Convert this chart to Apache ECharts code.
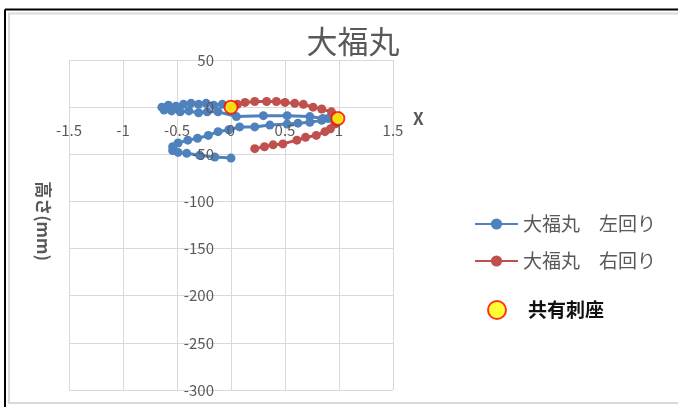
<!DOCTYPE html>
<html>
<head>
<meta charset="utf-8">
<script src="https://cdn.jsdelivr.net/npm/echarts@6/dist/echarts.min.js"></script>
<style>
  html, body { margin: 0; padding: 0; background: #fff; }
  #chart { width: 678px; height: 407px; }
</style>
</head>
<body>
<div id="chart"></div>
<script>
// Title and series names
const chartTitle = '大福丸';
const nameLeft = '大福丸　左回り';
const nameRight = '大福丸　右回り';
const nameShared = '共有刺座';

// 左回り: x and height (mm)
const leftX = [0, -0.08, -0.16, -0.23, -0.30, -0.37, -0.44, -0.51, -0.58, -0.64,
  -0.62, -0.55, -0.47, -0.39, -0.30, -0.22, -0.12, 0.05, 0.30, 0.52, 0.73, 0.85, 0.90,
  0.84, 0.73, 0.62, 0.52, 0.36, 0.22, 0.08, -0.02, -0.12, -0.21, -0.31, -0.40, -0.49,
  -0.54, -0.54, -0.49, -0.41, -0.29, -0.15, 0.00];
const leftY = [0, 3, 2, 4, 3, 4, 3, 1, 2, 0,
  -3, -4, -5, -4, -6, -5, -5, -10, -9, -9, -10, -12, -12,
  -14, -16, -17, -18, -19, -21, -21, -24, -26, -30, -33, -35, -38,
  -42, -46, -48, -49, -51, -53, -54];

// 右回り: x and height (mm)
const rightX = [0, 0.06, 0.13, 0.22, 0.33, 0.42, 0.50, 0.59, 0.67, 0.76, 0.84, 0.93, 0.99,
  0.96, 0.92, 0.87, 0.79, 0.69, 0.61, 0.48, 0.39, 0.31, 0.22];
const rightY = [0, 3, 5, 6, 6, 6, 5, 4, 3, 0, -2, -5, -12,
  -18, -23, -26, -30, -32, -35, -39, -40, -42, -44];

// Shared prickle bases
const sharedX = [0, 0.99];
const sharedY = [0, -12];

// Axis ranges
const xMin = -1.5, xMax = 1.5, xStep = 0.5;
const yMin = -300, yMax = 50, yStep = 50;

const zip = (xs, ys) => xs.map((x, i) => [x, ys[i]]);

const labelColor = '#595959';
const gridColor = '#D9D9D9';

// Plot area and the axes crossing at the origin
const W = 678, H = 407;
const gridBox = { left: 69, right: 285, top: 60, bottom: 17 };
const gridW = W - gridBox.left - gridBox.right;
const gridH = H - gridBox.top - gridBox.bottom;
const yAxisShift = -gridW * (0 - xMin) / (xMax - xMin);
const xAxisShift = -gridH * (0 - yMin) / (yMax - yMin);

const xRange = { type: 'value', min: xMin, max: xMax, interval: xStep };
const yRange = { type: 'value', min: yMin, max: yMax, interval: yStep };

const chart = echarts.init(document.getElementById('chart'));
chart.setOption({
  animation: false,
  backgroundColor: '#fff',
  textStyle: { fontFamily: '"Noto Sans CJK JP", "Noto Sans", sans-serif' },
  title: {
    text: chartTitle,
    left: 348, top: 21,
    textAlign: 'center',
    textStyle: { fontSize: 31, fontWeight: 'normal', color: labelColor }
  },
  grid: Object.assign({ containLabel: false, outerBoundsMode: 'none' }, gridBox),
  xAxis: [
    // tick labels through the origin, drawn above the series
    Object.assign({}, xRange, {
      position: 'bottom', offset: xAxisShift, z: 10,
      name: 'X', nameLocation: 'end', nameGap: 20,
      nameTextStyle: { fontSize: 17, fontWeight: 'bold', color: labelColor, verticalAlign: 'top', padding: [3, 0, 0, 0] },
      axisLine: { show: false, onZero: false },
      axisTick: { show: false },
      axisLabel: { color: labelColor, fontSize: 15, margin: 16 },
      splitLine: { show: false }
    }),
    // grid lines beneath the series
    Object.assign({}, xRange, {
      z: 0,
      axisLine: { show: false, onZero: false },
      axisTick: { show: false },
      axisLabel: { show: false },
      splitLine: { show: true, lineStyle: { color: gridColor, width: 1 } }
    })
  ],
  yAxis: [
    Object.assign({}, yRange, {
      position: 'left', offset: yAxisShift, z: 10,
      name: '高さ(mm)', nameLocation: 'middle', nameRotate: -90, nameGap: 179,
      nameTextStyle: { fontSize: 17, fontWeight: 'bold', color: labelColor, padding: [0, 8, 0, 0] },
      axisLine: { show: false, onZero: false },
      axisTick: { show: false },
      axisLabel: { color: labelColor, fontSize: 15, margin: 17 },
      splitLine: { show: false }
    }),
    Object.assign({}, yRange, {
      z: 0,
      axisLine: { show: false, onZero: false },
      axisTick: { show: false },
      axisLabel: { show: false },
      splitLine: { show: true, lineStyle: { color: gridColor, width: 1 } }
    })
  ],
  legend: [
    {
      data: [nameLeft, nameRight],
      orient: 'vertical', left: 469, top: 209,
      itemWidth: 43, itemHeight: 14, itemGap: 17,
      textStyle: { fontSize: 19, color: labelColor, lineHeight: 20 }
    },
    {
      data: [{ name: nameShared, icon: 'circle' }],
      orient: 'vertical', left: 482, top: 295,
      itemWidth: 52, itemHeight: 18,
      textStyle: { fontSize: 19, fontWeight: 'bold', color: '#111' }
    }
  ],
  graphic: [
    { type: 'rect', silent: true, z: -1, shape: { x: 9, y: 13.5, width: 680, height: 389.5 },
      style: { fill: 'none', stroke: '#D9D9D9', lineWidth: 2 } },
    { type: 'line', silent: true, shape: { x1: 5, y1: 9.5, x2: 678, y2: 9.5 },
      style: { stroke: '#000', lineWidth: 2 } },
    { type: 'line', silent: true, shape: { x1: 5, y1: 9.5, x2: 5, y2: 407 },
      style: { stroke: '#000', lineWidth: 2 } }
  ],
  series: [
    {
      name: nameLeft, type: 'line', data: zip(leftX, leftY),
      symbol: 'circle', symbolSize: 9, showAllSymbol: true,
      itemStyle: { color: '#4F81BD' },
      lineStyle: { color: '#4F81BD', width: 3 }
    },
    {
      name: nameRight, type: 'line', data: zip(rightX, rightY),
      symbol: 'circle', symbolSize: 9, showAllSymbol: true,
      itemStyle: { color: '#C0504D' },
      lineStyle: { color: '#C0504D', width: 3 }
    },
    {
      name: nameShared, type: 'scatter', data: zip(sharedX, sharedY),
      symbol: 'circle', symbolSize: 13, z: 5,
      itemStyle: { color: '#FFFF00', borderColor: '#FF0000', borderWidth: 2 }
    }
  ]
});
</script>
</body>
</html>
